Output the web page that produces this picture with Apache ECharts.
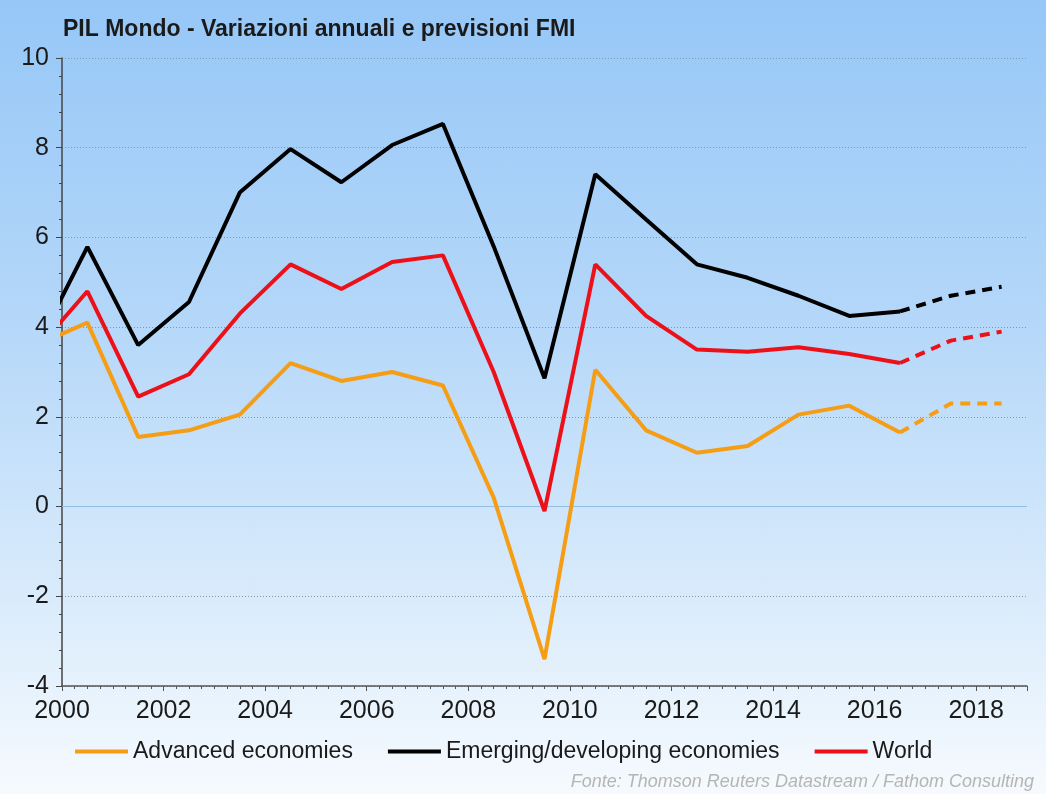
<!DOCTYPE html>
<html>
<head>
<meta charset="utf-8">
<script src="https://cdn.jsdelivr.net/npm/echarts@6/dist/echarts.min.js"></script>
<style>
  html, body { margin: 0; padding: 0; }
  body {
    width: 1046px; height: 794px;
    background: linear-gradient(to bottom, #96c7f7 0%, #b4d7f9 40%, #d9ebfb 75%, #f6fafe 100%);
  }
  #chart { width: 1046px; height: 794px; }
</style>
</head>
<body>
<div id="chart"></div>
<script>
// anni (metà anno) e valori
const years = [1999.5, 2000.5, 2001.5, 2002.5, 2003.5, 2004.5, 2005.5, 2006.5, 2007.5, 2008.5,
  2009.5, 2010.5, 2011.5, 2012.5, 2013.5, 2014.5, 2015.5, 2016.5];
const advanced = [3.6, 4.1, 1.55, 1.7, 2.05, 3.2, 2.8, 3.0, 2.7, 0.2,
  -3.4, 3.05, 1.7, 1.2, 1.35, 2.05, 2.25, 1.65];
const emerging = [3.55, 5.79, 3.6, 4.56, 7.0, 7.97, 7.23, 8.06, 8.53, 5.8,
  2.86, 7.41, 6.4, 5.4, 5.1, 4.7, 4.25, 4.35];
const world = [3.5, 4.8, 2.45, 2.95, 4.3, 5.4, 4.85, 5.45, 5.6, 3.0,
  -0.1, 5.4, 4.25, 3.5, 3.45, 3.55, 3.4, 3.2];

// previsioni FMI (tratteggiate)
const fcYears = [2016.5, 2017.5, 2018.5];
const advancedFc = [1.65, 2.3, 2.3];
const emergingFc = [4.35, 4.7, 4.9];
const worldFc = [3.2, 3.7, 3.9];

const names = ['Advanced economies', 'Emerging/developing economies', 'World'];
const colors = ['#f59d14', '#000000', '#ec1118'];

function pairs(xs, ys) {
  return xs.map((x, i) => [x, ys[i]]);
}

function lineSeries(name, color, data, dashed) {
  return {
    name: name,
    type: 'line',
    data: data,
    symbol: 'none',
    clip: true,
    color: color,
    lineStyle: { width: 4, color: color, type: dashed ? [10, 7] : 'solid' },
    z: 3
  };
}

const font = 'Liberation Sans, Arial, sans-serif';

const chart = echarts.init(document.getElementById('chart'));
const option = {
  backgroundColor: 'transparent',
  textStyle: { fontFamily: font },
  title: {
    text: 'PIL Mondo - Variazioni annuali e previsioni FMI',
    left: 58,
    top: 13,
    textStyle: { fontSize: 23, fontWeight: 'bold', color: '#1a1a1a', fontFamily: font }
  },
  graphic: [{
    type: 'text',
    right: 12,
    top: 773,
    style: {
      text: 'Fonte: Thomson Reuters Datastream / Fathom Consulting',
      font: 'italic 18px ' + font,
      fill: '#b5b5b5'
    }
  }],
  legend: {
    data: names,
    left: 70,
    top: 735,
    icon: 'rect',
    itemWidth: 53,
    itemHeight: 4,
    itemGap: 35,
    textStyle: { fontSize: 23, color: '#1a1a1a', fontFamily: font }
  },
  grid: { left: 62, right: 19, top: 58, bottom: 108 },
  xAxis: {
    type: 'value',
    min: 2000,
    max: 2019,
    interval: 2,
    axisLine: { show: true, onZero: false, lineStyle: { color: '#555', width: 1.5 } },
    axisTick: { show: true, length: 5, lineStyle: { color: '#555' } },
    minorTick: { show: true, splitNumber: 8, length: 3, lineStyle: { color: '#555' } },
    splitLine: { show: false },
    axisLabel: {
      fontSize: 25, color: '#1a1a1a', margin: 13, fontFamily: font,
      showMaxLabel: false,
      formatter: v => String(v)
    }
  },
  yAxis: {
    type: 'value',
    min: -4,
    max: 10,
    interval: 2,
    axisLine: { show: true, lineStyle: { color: '#444', width: 1.5 } },
    axisTick: { show: true, length: 6, lineStyle: { color: '#444' } },
    minorTick: { show: true, splitNumber: 5, length: 3, lineStyle: { color: '#444' } },
    splitLine: { show: true, lineStyle: { color: '#7f97b0', type: [1, 2], width: 1 } },
    axisLabel: { fontSize: 25, color: '#1a1a1a', margin: 13, fontFamily: font }
  },
  series: [
    Object.assign(lineSeries(names[0], colors[0], pairs(years, advanced), false), {
      markLine: {
        silent: true,
        symbol: 'none',
        label: { show: false },
        lineStyle: { color: '#93bfe3', width: 1, type: 'solid' },
        data: [{ yAxis: 0 }],
        z: 1
      }
    }),
    lineSeries(names[1], colors[1], pairs(years, emerging), false),
    lineSeries(names[2], colors[2], pairs(years, world), false),
    lineSeries(names[0], colors[0], pairs(fcYears, advancedFc), true),
    lineSeries(names[1], colors[1], pairs(fcYears, emergingFc), true),
    lineSeries(names[2], colors[2], pairs(fcYears, worldFc), true)
  ]
};
chart.setOption(option);
</script>
</body>
</html>
